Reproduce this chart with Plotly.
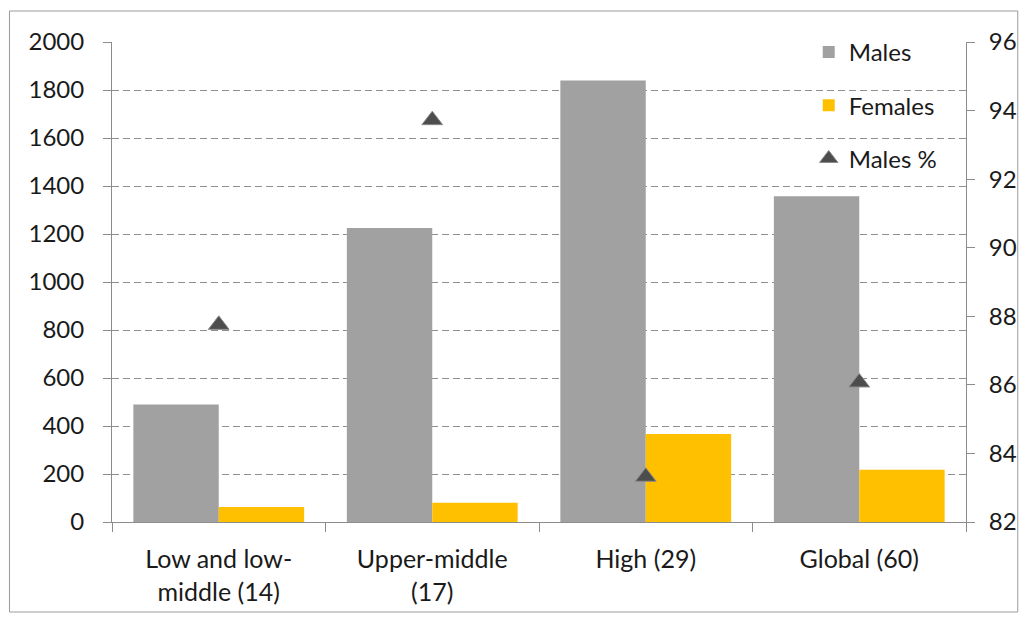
import plotly.graph_objects as go

# Income groups (number of countries in brackets)
categories = ["Low and low-<br>middle (14)", "Upper-middle<br>(17)", "High (29)", "Global (60)"]
males = [490, 1225, 1840, 1357]
females = [63, 80, 367, 218]
males_pct = [87.75, 93.72, 83.32, 86.07]

left_ticks = list(range(0, 2001, 200))
right_ticks = list(range(82, 97, 2))

FONT = "Lato, 'Open Sans', sans-serif"
TEXT = "#1a1a1a"
AXIS = "#8c8c8c"

fig = go.Figure()
fig.add_trace(go.Bar(
    x=categories, y=males, name="Males", legendgroup="m",
    marker=dict(color="#a1a1a1", line=dict(width=0)),
))
fig.add_trace(go.Bar(
    x=categories, y=females, name="Females", legendgroup="f",
    marker=dict(color="#ffc000", line=dict(width=0)),
))
fig.add_trace(go.Scatter(
    x=categories, y=males_pct, name="Males %", legendgroup="p", yaxis="y2",
    mode="markers",
    marker=dict(symbol="triangle-up", size=18, color="#4d4d4d",
                line=dict(color="#8a8a8a", width=1)),
))

W, H = 1029, 623
L, R, T, B = 112, 970, 42, 522
pw, ph = R - L, B - T


def px(x):
    return (x - L) / pw


def py(y):
    return (B - y) / ph


fig.update_layout(
    width=W, height=H,
    margin=dict(l=L, r=W - R, t=T, b=H - B, pad=0),
    paper_bgcolor="white", plot_bgcolor="white",
    font=dict(family=FONT, size=24, color=TEXT),
    barmode="group", bargap=0.2, bargroupgap=0,
    showlegend=True,
    legend=dict(
        x=px(812), y=py(30), xanchor="left", yanchor="top",
        bgcolor="rgba(0,0,0,0)", font=dict(size=24, color=TEXT),
        tracegroupgap=19, itemwidth=30,
    ),
    xaxis=dict(
        type="category", showgrid=False, tickson="boundaries",
        ticks="outside", ticklen=9, tickcolor=AXIS,
        showline=True, linecolor=AXIS, linewidth=1,
        tickfont=dict(size=25, color=TEXT), ticklabelstandoff=15,
    ),
    yaxis=dict(
        range=[0, 2000], tickvals=left_ticks, showgrid=True,
        gridcolor="#8f8f8f", griddash="7px,4px", gridwidth=1,
        ticks="outside", ticklen=8, tickcolor=AXIS,
        showline=True, linecolor=AXIS, linewidth=1, zeroline=False,
        tickfont=dict(size=24, color=TEXT), ticklabelstandoff=14,
    ),
    yaxis2=dict(
        range=[82, 96], tickvals=right_ticks, overlaying="y", side="right",
        showgrid=False, ticks="outside", ticklen=8, tickcolor=AXIS,
        showline=True, linecolor=AXIS, linewidth=1, zeroline=False,
        tickfont=dict(size=24, color=TEXT), ticklabelstandoff=9,
    ),
    shapes=[dict(
        type="rect", xref="paper", yref="paper",
        x0=px(9), x1=px(1022), y0=py(612), y1=py(11),
        line=dict(color="#9a9a9a", width=1), fillcolor="rgba(0,0,0,0)", layer="below",
    )],
)

fig.write_html("out.html")
